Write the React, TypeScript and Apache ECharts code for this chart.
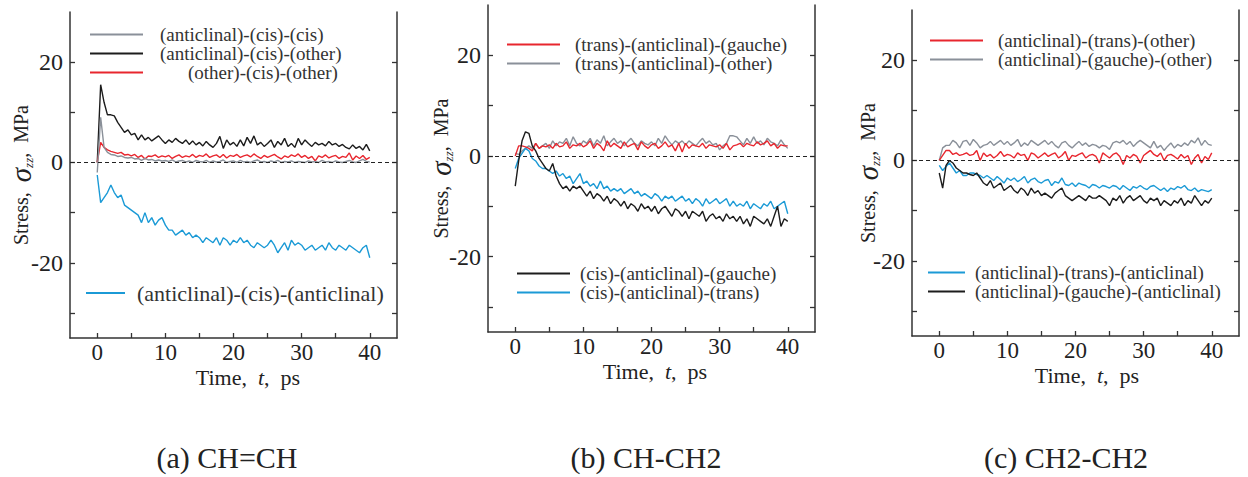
import React, { useEffect, useRef } from "react";
import * as echarts from "echarts";

// Time, ps (sampling grid of the simulation output)
const times = [
  0, 0.5, 1, 1.5, 2, 2.5, 3, 3.5, 4, 4.5,
  5, 5.5, 6, 6.5, 7, 7.5, 8, 8.5, 9, 9.5,
  10, 10.5, 11, 11.5, 12, 12.5, 13, 13.5, 14, 14.5,
  15, 15.5, 16, 16.5, 17, 17.5, 18, 18.5, 19, 19.5,
  20, 20.5, 21, 21.5, 22, 22.5, 23, 23.5, 24, 24.5,
  25, 25.5, 26, 26.5, 27, 27.5, 28, 28.5, 29, 29.5,
  30, 30.5, 31, 31.5, 32, 32.5, 33, 33.5, 34, 34.5,
  35, 35.5, 36, 36.5, 37, 37.5, 38, 38.5, 39, 39.5,
  40,
];

// (a) CH=CH
const aAcc = [
  -2, 9, 3, 2, 1.6, 1.5, 1.2, 1.3, 1.0, 0.9,
  1.0, 0.7, 0.8, 0.4, 0.8, 0.5, 0.6, 0.3, 0.5, 0.3,
  0.4, 0.2, 0.5, 0.1, 0.3, 0.4, 0.1, 0.3, 0.0, 0.4,
  0.2, 0.1, 0.4, 0.0, 0.3, 0.1, 0.2, 0.5, 0.0, 0.2,
  0.3, 0.0, 0.4, 0.1, 0.2, 0.0, 0.3, 0.5, 0.1, 0.2,
  0.0, 0.3, 0.1, 0.4, 0.0, 0.2, 0.1, 0.3, 0.0, 0.2,
  0.1, 0.0, 0.3, 0.1, 0.2, 0.0, 0.4, 0.1, 0.2, 0.0,
  0.3, 0.1, 0.0, 0.2, 0.4, 0.1, 0.0, 0.3, 0.6, 0.2,
  0.1,
];
const aAco = [
  0, 15.5, 12, 9.5, 9.5, 9.3, 8, 7, 6, 6.5,
  5.5, 5.8, 4.5, 5.5, 4.5, 5, 4.3, 4.8, 5.3, 4.5,
  3.8, 4.5, 4, 4.8, 4.2, 3.8, 4.5, 3.6, 4.3, 3.5,
  4.0, 3.3, 4.2, 3.5, 3.0, 3.8, 5.2, 2.8, 4.5, 3.5,
  4.0, 3.2, 4.5, 3.3, 5.0, 3.8, 5.3, 3.5, 4.0, 3.2,
  3.8, 4.5, 3.0, 4.2, 3.5, 4.8, 3.2, 3.8, 3.0, 4.8,
  3.5, 4.5, 3.8, 3.2, 4.0, 3.5, 3.8, 3.3, 4.2, 3.5,
  3.8, 3.2, 3.6, 3.0, 2.7, 3.5, 2.8, 3.2, 2.5, 3.6,
  2.3,
];
const aOco = [
  0, 4.0, 3.0, 2.5, 2.2, 2.0, 1.8, 2.0, 1.5, 1.6,
  1.3, 1.6, 1.0, 1.4, 0.7, 1.3, 1.2, 1.5, 1.0, 1.3,
  1.1, 1.4, 0.8, 1.2, 1.5, 1.0, 1.3, 1.1, 1.6, 1.0,
  1.4, 1.2, 1.7, 1.0, 1.3, 1.5, 1.0, 1.6, 0.9, 1.4,
  1.2, 1.6, 1.0, 1.3, 1.5, 1.1, 1.7, 1.2, 0.8, 1.4,
  1.0, 1.3, 1.6, 1.1, 0.7, 1.3, 1.0, 1.5, 1.2, 1.7,
  1.0, 1.4, 0.8, 1.2, 0.3, 1.3, 1.0, 1.5, 0.9, 1.2,
  1.4, 0.8, 1.2, 1.0, 1.9, 0.5, 1.3, 0.8, 1.4, 0.6,
  1.0,
];
const aAca = [
  -2.5, -8.0, -7.0, -6.0, -4.5, -6.0, -7.0, -6.5, -8.5, -9.0,
  -9.5, -10.0, -10.5, -12.0, -10.0, -12.0, -11.0, -12.5, -11.5, -11.0,
  -12.5, -13.5, -13.5, -14.5, -14.0, -13.5, -14.5, -14.0, -15.0, -14.5,
  -15.0, -16.0, -15.0, -15.5, -16.0, -15.0, -16.5, -15.0, -15.5, -16.5,
  -15.5, -16.0, -15.0, -16.0, -15.5, -16.5, -17.0, -16.0, -16.5, -17.0,
  -16.5, -15.5, -16.5, -18.0, -17.0, -16.0, -17.5, -15.5, -16.5, -16.0,
  -16.5, -17.5, -17.0, -16.5, -17.5, -17.0, -16.5, -17.5, -16.0, -17.0,
  -17.5, -16.5, -17.0, -17.5, -16.5, -17.0, -17.5, -18.0, -17.0, -16.5,
  -19.0,
];

// (b) CH-CH2
const bTag = [
  0, 2.0, 2.0, 1.8, 1.5, 1.0, 2.5, 1.5, 2.0, 1.8,
  2.2, 1.5, 2.5, 1.8, 2.0, 2.8, 1.5, 2.2, 2.0, 2.5,
  1.8, 2.2, 3.0, 1.5, 2.5, 2.0, 1.0, 3.0, 1.8, 2.5,
  2.0, 1.5, 2.8, 1.8, 2.2, 2.5, 1.2, 2.8, 2.0, 1.5,
  2.2, 2.5, 1.5, 2.0, 2.8, 1.8, 2.2, 1.0, 2.5, 0.8,
  2.5, 1.5, 2.2, 2.0, 1.8, 2.5, 1.5, 2.2, 2.0, 1.8,
  2.2, 1.5, 2.5, 1.2, 2.0, 2.2, 2.5, 1.8, 2.5, 2.2,
  2.0, 2.8, 2.2, 2.5, 3.0, 2.0, 2.5, 1.5, 2.2, 2.0,
  2.0,
];
const bTao = [
  0.5, 0.3, 1.0, 1.5, 2.0, 1.5, 2.5, 1.5, 2.0, 2.5,
  1.5, 3.0, 2.0, 2.8, 2.5, 3.5, 2.0, 3.8, 2.5, 2.0,
  3.0, 2.5, 3.5, 2.0, 3.2, 2.5, 4.0, 2.0, 2.8, 3.5,
  2.5, 3.0, 2.0, 2.8, 3.5, 2.5, 2.0, 3.0, 2.5, 2.2,
  2.8, 2.0, 3.5, 2.5, 4.0, 3.0, 2.2, 3.0, 2.5, 3.0,
  2.2, 3.0, 2.5, 2.0, 2.8, 3.5, 2.5, 3.0, 2.2, 2.5,
  1.2, 2.0, 2.5, 4.0, 4.0, 3.8, 3.0, 2.2, 3.5, 2.5,
  3.8, 2.5, 3.0, 2.2, 3.5, 2.8, 2.5, 2.0, 3.2, 2.2,
  1.5,
];
const bCag = [
  -6.0, -1.0, 3.0, 4.8, 4.5, 2.0, 1.0, -0.5, -1.5, -2.5,
  -3.0, -1.5, -4.0, -5.5, -6.5, -6.0, -7.0, -6.0, -6.5, -6.0,
  -7.0, -8.0, -7.0, -8.5, -7.5, -8.0, -9.0, -8.0, -9.5, -8.5,
  -9.0, -10.0, -9.0, -10.5, -9.5, -10.0, -11.0, -9.5, -10.5, -10.0,
  -11.0, -10.0, -11.5, -10.5, -10.0, -11.0, -12.0, -10.5, -11.0, -12.0,
  -11.0, -12.5, -11.0, -11.5, -12.0, -11.0, -13.0, -12.0, -11.5, -12.5,
  -12.0, -13.0, -11.5, -12.5, -12.0, -13.0, -12.0, -13.5, -12.5, -14.0,
  -12.0, -12.5, -13.0, -13.5, -12.5, -14.0, -12.0, -10.0, -14.0, -12.5,
  -13.0,
];
const bCat = [
  -2.5, -0.5, 0.5, 1.5, 1.0, -0.5, -1.0, -2.0, -2.5, -2.5,
  -3.0, -3.5, -3.0, -4.0, -3.5, -4.5, -4.0, -5.5, -4.5, -3.5,
  -5.5, -5.0, -6.0, -5.5, -6.5, -5.0, -6.5, -6.0, -7.0, -6.5,
  -7.0, -6.5, -7.5, -7.0, -6.5, -7.5, -7.0, -8.0, -7.5, -8.0,
  -8.5, -7.5, -8.0, -9.0, -8.0, -8.5, -8.0, -9.0, -8.5, -8.0,
  -9.0, -8.5, -9.5, -8.5, -9.0, -10.0, -8.5, -9.5, -9.0, -8.5,
  -9.5, -9.0, -8.5, -10.0, -9.0, -10.0, -9.5, -10.0, -9.0, -10.5,
  -9.5, -10.0, -10.5, -9.5, -10.0, -9.0, -10.5, -10.0, -9.5, -9.0,
  -11.5,
];

// (c) CH2-CH2
const cAto = [
  0, 1.0, 2.0, 2.0, 1.2, 1.5, 1.0, 1.2, 1.5, 1.0,
  1.2, 2.0, 0.0, 1.5, 0.8, 1.2, 0.5, 1.0, 1.8, 0.8,
  1.2, 1.0, 0.5, 1.5, 1.0, 1.2, 0.0, 1.5, 1.2, 0.5,
  1.0, 1.5, 0.8, 1.2, 1.5, 0.5, 1.0, 1.8, 0.0, 1.0,
  0.8, 1.2, 1.5, 0.5, 1.0, 1.2, 0.8, -0.5, 1.5, 1.0,
  0.5, 1.2, 1.5, 0.8, -0.8, 1.0, 0.5, 1.2, 0.8, -0.5,
  1.0, 1.5, 2.0, 1.2, 0.8, 1.5, 0.0, 1.0, 1.2, 0.8,
  0.3, 1.2, 0.5, 1.0, -0.8, 0.5, 1.2, -0.5, 0.8, 0.2,
  1.5,
];
const cAgo = [
  0, 2.5, 3.0, 3.0, 4.0, 3.5, 2.5, 3.8, 4.0, 3.0,
  4.2, 3.5, 2.5, 3.0, 3.2, 3.8, 3.0, 3.5, 4.0, 3.2,
  3.8, 3.0, 3.5, 4.2, 2.8, 3.5, 3.0, 4.0, 3.5, 3.0,
  3.5, 4.0, 3.2, 3.8, 3.0, 2.5, 3.5, 3.8, 3.0, 2.5,
  3.2, 3.8, 3.0, 3.5, 2.8, 3.2, 3.0, 2.5, 3.0, 2.8,
  2.2, 3.5, 3.8, 3.5, 4.0, 3.2, 3.8, 2.8, 3.5, 4.0,
  3.5, 3.0, 2.5, 3.8, 2.5, 3.0, 2.0, 2.8, 3.5, 2.5,
  3.2, 2.8, 3.5, 3.0, 4.0, 3.5, 4.5, 3.0, 4.0, 3.2,
  3.0,
];
const cAta = [
  -1.0, -2.0, -1.2, -0.5, -1.5, -2.5, -2.0, -3.0, -3.0, -2.5,
  -2.5, -2.8, -3.0, -3.5, -3.0, -3.5, -4.0, -3.2, -3.8, -4.5,
  -3.5, -4.0, -3.5, -4.2, -3.8, -3.2, -4.5, -3.8, -3.5, -4.2,
  -4.5, -4.0, -3.8, -5.0, -4.2, -4.5, -3.5, -4.8, -5.0, -4.5,
  -5.2, -4.5, -4.8, -5.0, -5.5, -4.8, -5.0, -5.5, -5.0, -5.2,
  -5.5, -5.0, -5.2, -5.8, -5.0, -5.5, -6.0, -5.2, -5.5, -5.0,
  -5.5, -5.8, -5.2, -5.0, -5.5, -6.0, -5.5, -6.2, -5.5, -5.8,
  -5.2, -5.5, -5.0, -5.8, -6.0, -5.5, -6.2, -5.8, -6.0, -6.2,
  -5.8,
];
const cAga = [
  -2.5, -5.5, -1.0, 0.0, -0.5, -1.5, -2.0, -2.5, -2.5, -2.8,
  -3.0, -2.5, -3.5, -4.5, -5.0, -4.0, -5.5, -5.0, -4.5, -6.0,
  -5.5, -5.0, -6.0, -6.5, -5.5, -6.0, -7.0, -5.5, -6.5, -6.0,
  -7.0, -6.5, -7.0, -7.5, -6.5, -6.0, -5.5, -7.0, -7.5, -8.0,
  -7.5, -7.0, -7.5, -8.0, -7.0, -7.5, -7.5, -7.0, -7.5, -8.0,
  -9.0, -7.5, -8.0, -7.0, -8.5, -7.5, -7.0, -8.0, -7.5, -7.0,
  -8.0, -8.5, -7.5, -8.0, -7.5, -9.0, -8.0, -8.5, -9.0, -8.0,
  -8.5, -7.5, -9.0, -8.0, -8.5, -7.0, -8.0, -9.0, -8.0, -8.5,
  -7.5,
];

const xTicks = [0, 5, 10, 15, 20, 25, 30, 35, 40];
const xLabels = [0, 10, 20, 30, 40];
const yTicks = [-30, -20, -10, 0, 10, 20];
const yLabels = [-20, 0, 20];
const captions = ["(a) CH=CH", "(b) CH-CH2", "(c) CH2-CH2"];

const GRAY = "#8a9099";
const BLACK = "#1c1c1c";
const RED = "#e8262e";
const BLUE = "#1b9ad6";
const FONT = "Liberation Serif";
const AX = "#333";

const pairs = (vals: number[]) => times.map((t, i) => [t, vals[i]]);

export default function App() {
  const ref = useRef<HTMLDivElement>(null);
  useEffect(() => {
    if (!ref.current) return;
    const chart = echarts.init(ref.current, null, { renderer: "svg" });

    const grids = [
      { left: 70, top: 12, width: 327, height: 326 },
      { left: 488, top: 5, width: 327, height: 327 },
      { left: 912, top: 10, width: 327, height: 326 },
    ];
    const xNamePad = [29, 7, 23];
    const yNameGap = [35, 33, 30];

    const xAxes: any[] = [];
    const yAxes: any[] = [];
    grids.forEach((g, i) => {
      xAxes.push({
        type: "value",
        gridIndex: i,
        min: -4,
        max: 44,
        name: "{n|Time,  }{i|t}{n|,  ps}",
        nameLocation: "middle",
        nameGap: 29,
        nameMoveOverlap: false,
        nameTextStyle: {
          padding: [0, 0, 0, xNamePad[i]],
          rich: {
            n: { fontFamily: FONT, fontSize: 22, lineHeight: 20, color: "#222" },
            i: { fontFamily: FONT, fontSize: 22, lineHeight: 20, fontStyle: "italic", color: "#222" },
          },
        },
        axisLine: { show: true, onZero: false, lineStyle: { color: AX, width: 1.5 } },
        axisTick: { show: true, inside: true, length: 5, customValues: xTicks, lineStyle: { color: AX, width: 1.3 } },
        axisLabel: { show: true, customValues: xLabels, margin: 2, fontFamily: FONT, fontSize: 23, lineHeight: 24, color: "#222" },
        splitLine: { show: false },
      });
      yAxes.push({
        type: "value",
        gridIndex: i,
        min: -35,
        max: 30,
        name: "{s|Stress,  }{g|σ}{z|zz}{m|,  MPa}",
        nameLocation: "middle",
        nameRotate: 90,
        nameGap: yNameGap[i],
        nameMoveOverlap: false,
        nameTextStyle: {
          rich: {
            s: { fontFamily: FONT, fontSize: 20, color: "#222" },
            g: { fontFamily: FONT, fontSize: 29, fontStyle: "italic", color: "#222" },
            z: { fontFamily: FONT, fontSize: 13, fontStyle: "italic", color: "#222", verticalAlign: "bottom" },
            m: { fontFamily: FONT, fontSize: 20, color: "#222" },
          },
        },
        axisLine: { show: true, onZero: false, lineStyle: { color: AX, width: 1.5 } },
        axisTick: { show: true, inside: true, length: 5, customValues: yTicks, lineStyle: { color: AX, width: 1.3 } },
        axisLabel: { show: true, customValues: yLabels, margin: 7, fontFamily: FONT, fontSize: 24, color: "#222" },
        splitLine: { show: false },
      });
      yAxes.push({
        type: "value",
        gridIndex: i,
        position: "right",
        min: -35,
        max: 30,
        axisLine: { show: true, onZero: false, lineStyle: { color: AX, width: 1.5 } },
        axisTick: { show: true, inside: true, length: 5, customValues: yTicks, lineStyle: { color: AX, width: 1.3 } },
        axisLabel: { show: false },
        splitLine: { show: false },
      });
    });

    const zeroLine = {
      silent: true,
      symbol: "none",
      label: { show: false },
      lineStyle: { color: "#222", type: [4, 3], width: 1 },
      data: [{ yAxis: 0 }],
    };

    const mk = (name: string, vals: number[], color: string, gi: number, withZero = false, z = 2) => ({
      type: "line",
      name,
      xAxisIndex: gi,
      yAxisIndex: gi * 2,
      data: pairs(vals),
      showSymbol: false,
      symbol: "none",
      z,
      lineStyle: { color, width: 1.4 },
      itemStyle: { color },
      ...(withZero ? { markLine: zeroLine } : {}),
    });

    const series = [
      mk("(anticlinal)-(cis)-(other)", aAco, BLACK, 0, true),
      mk("(other)-(cis)-(other)", aOco, RED, 0),
      mk("(anticlinal)-(cis)-(cis)", aAcc, GRAY, 0, false, 3),
      mk("(anticlinal)-(cis)-(anticlinal)", aAca, BLUE, 0),

      mk("(trans)-(anticlinal)-(other)", bTao, GRAY, 1, true),
      mk("(trans)-(anticlinal)-(gauche)", bTag, RED, 1),
      mk("(cis)-(anticlinal)-(trans)", bCat, BLUE, 1),
      mk("(cis)-(anticlinal)-(gauche)", bCag, BLACK, 1),

      mk("(anticlinal)-(gauche)-(other)", cAgo, GRAY, 2, true),
      mk("(anticlinal)-(trans)-(other)", cAto, RED, 2),
      mk("(anticlinal)-(trans)-(anticlinal)", cAta, BLUE, 2),
      mk("(anticlinal)-(gauche)-(anticlinal)", cAga, BLACK, 2),
    ];

    const lg = (left: number, top: number, w: number, data: any[], fontSize: number, pad: number) => ({
      orient: "vertical",
      left,
      top,
      padding: 0,
      itemGap: 0,
      itemWidth: w,
      itemHeight: 2,
      icon: "rect",
      selectedMode: false,
      data,
      textStyle: { fontFamily: FONT, fontSize, lineHeight: 17, color: "#333", padding: [0, 0, 0, pad] },
    });

    const legends = [
      lg(90, 25, 53, [
        "(anticlinal)-(cis)-(cis)",
        "(anticlinal)-(cis)-(other)",
        { name: "(other)-(cis)-(other)", textStyle: { padding: [0, 0, 0, 40] } },
      ], 19, 12),
      lg(86, 282, 39, ["(anticlinal)-(cis)-(anticlinal)"], 22, 7),
      lg(507, 35, 53, ["(trans)-(anticlinal)-(gauche)", "(trans)-(anticlinal)-(other)"], 19, 10),
      lg(517, 264, 53, ["(cis)-(anticlinal)-(gauche)", "(cis)-(anticlinal)-(trans)"], 19, 5),
      lg(930, 31, 53, ["(anticlinal)-(trans)-(other)", "(anticlinal)-(gauche)-(other)"], 19, 10),
      lg(928, 263, 37, ["(anticlinal)-(trans)-(anticlinal)", "(anticlinal)-(gauche)-(anticlinal)"], 19, 5),
    ];

    const capX = [227, 646, 1066];

    chart.setOption({
      animation: false,
      backgroundColor: "#fff",
      textStyle: { fontFamily: FONT },
      grid: grids.map((g) => ({ ...g, containLabel: false, show: false })),
      xAxis: xAxes,
      yAxis: yAxes,
      legend: legends,
      series,
      graphic: captions.map((c, i) => ({
        type: "text",
        x: capX[i],
        y: 457,
        style: {
          text: c,
          fontFamily: FONT,
          fontSize: 30,
          fill: "#222",
          align: "center",
          verticalAlign: "middle",
        },
      })),
    });

    return () => chart.dispose();
  }, []);
  return (
    <div
      ref={ref}
      style={{ position: "absolute", left: 0, top: 0, width: 1248, height: 477, background: "#fff" }}
    />
  );
}
